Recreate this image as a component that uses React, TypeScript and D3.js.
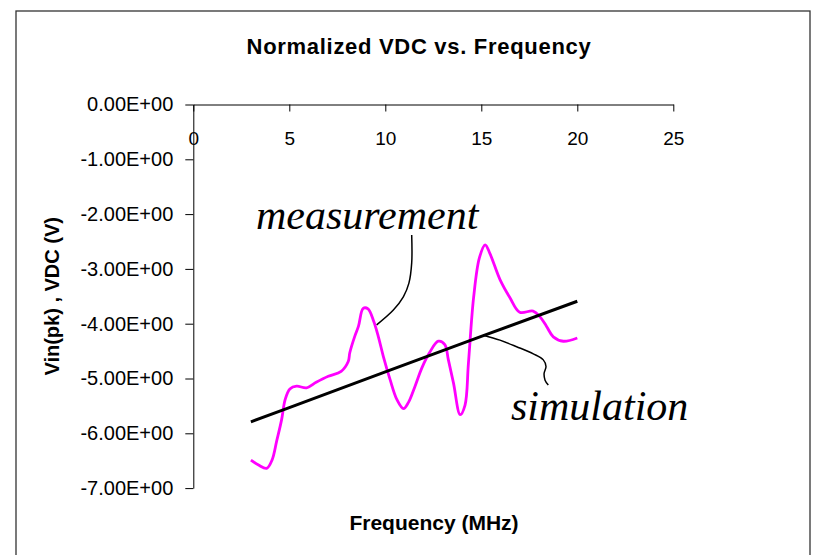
import React, { useRef, useEffect } from 'react';
import * as d3 from 'd3';

// measured curve (MHz, V)
const measFreq = [3.0, 3.4, 3.82, 4.1, 4.35, 4.6, 4.78, 5.03, 5.38, 5.9, 6.4, 7.03, 7.7, 8.07, 8.15, 8.4, 8.6, 8.85, 9.1, 9.4, 9.64, 9.9, 10.25, 10.6, 10.95, 11.2, 11.55, 11.9, 12.3, 12.76, 13.1, 13.28, 13.55, 13.9, 14.15, 14.33, 14.6, 14.9, 15.2, 15.45, 15.98, 16.5, 17.0, 17.7, 18.05, 18.4, 18.75, 19.27, 20.0];
const measValue = [-6.49, -6.58, -6.64, -6.49, -6.13, -5.75, -5.39, -5.19, -5.14, -5.17, -5.07, -4.96, -4.87, -4.69, -4.53, -4.24, -4.05, -3.72, -3.73, -3.96, -4.24, -4.6, -5.02, -5.38, -5.55, -5.44, -5.14, -4.81, -4.53, -4.32, -4.38, -4.65, -5.08, -5.66, -5.49, -4.72, -3.52, -2.8, -2.56, -2.72, -3.2, -3.53, -3.79, -3.77, -3.87, -4.05, -4.24, -4.32, -4.26];

// simulation line
const simFreq = [3, 5, 10, 15, 20];
const simValue = [-5.79, -5.53, -4.88, -4.23, -3.59];

const xTicks = [0, 5, 10, 15, 20, 25];
const yTicks = [0, -1, -2, -3, -4, -5, -6, -7];

// callout leaders, in data units
const measLeader: [number, number][] = [[11.375, -2.38], [11.375, -2.89], [11.23, -3.26], [10.94, -3.51], [10.42, -3.75], [9.55, -4.02]];
const simLeader: [number, number][] = [[15.1, -4.21], [15.97, -4.3], [16.84, -4.42], [17.71, -4.55], [18.23, -4.66], [18.37, -4.78], [18.27, -4.91], [18.32, -5.03], [18.49, -5.12]];

const App = () => {
  const svgRef = useRef<SVGSVGElement>(null);

  useEffect(() => {
    if (!svgRef.current) return;
    const svg = d3.select(svgRef.current);
    svg.selectAll('*').remove();

    const width = 820;
    const height = 555;

    const x = d3.scaleLinear().domain([0, 25]).range([193.3, 673.3]);
    const y = d3.scaleLinear().domain([-7, 0]).range([488.1, 104.5]);

    // outer frame
    svg.append('rect')
      .attr('x', 16).attr('y', 11)
      .attr('width', 794).attr('height', 560)
      .attr('fill', 'white')
      .attr('stroke', '#333')
      .attr('stroke-width', 1.3);

    // title
    svg.append('text')
      .attr('x', 419).attr('y', 54)
      .attr('text-anchor', 'middle')
      .attr('font-family', 'Liberation Sans, Arial, sans-serif')
      .attr('font-weight', 'bold')
      .attr('font-size', 22)
      .attr('letter-spacing', 0.7)
      .text('Normalized VDC vs. Frequency');

    // x axis sits on the zero line at the top
    const xAxis = svg.append('g')
      .attr('transform', `translate(0, ${y(0)})`)
      .call(d3.axisBottom(x).tickValues(xTicks).tickSize(7).tickSizeOuter(0).tickPadding(20));
    xAxis.selectAll('text')
      .attr('font-family', 'Liberation Sans, Arial, sans-serif')
      .attr('font-size', 19)
      .attr('fill', 'black');

    const yAxis = svg.append('g')
      .attr('transform', `translate(${x(0)}, 0)`)
      .call(d3.axisLeft(y).tickValues(yTicks).tickSize(8).tickSizeOuter(0).tickPadding(12)
        .tickFormat(d => (+d).toFixed(2) + 'E+00'));
    yAxis.selectAll('text')
      .attr('font-family', 'Liberation Sans, Arial, sans-serif')
      .attr('font-size', 20)
      .attr('fill', 'black');

    svg.selectAll('.domain, .tick line').attr('stroke', 'black').attr('stroke-width', 1);

    // axis titles
    svg.append('text')
      .attr('x', 434).attr('y', 530)
      .attr('text-anchor', 'middle')
      .attr('font-family', 'Liberation Sans, Arial, sans-serif')
      .attr('font-weight', 'bold')
      .attr('font-size', 21)
      .text('Frequency (MHz)');

    svg.append('text')
      .attr('transform', `translate(59, ${(y(0) + y(-7)) / 2}) rotate(-90)`)
      .attr('text-anchor', 'middle')
      .attr('font-family', 'Liberation Sans, Arial, sans-serif')
      .attr('font-weight', 'bold')
      .attr('font-size', 20)
      .text('Vin(pk) , VDC (V)');

    // measurement
    const meas = measFreq.map((f, i) => [f, measValue[i]] as [number, number]);
    const line = d3.line<[number, number]>()
      .x(d => x(d[0]))
      .y(d => y(d[1]))
      .curve(d3.curveCatmullRom.alpha(0.5));

    svg.append('path')
      .datum(meas)
      .attr('d', line)
      .attr('fill', 'none')
      .attr('stroke', '#FF00FF')
      .attr('stroke-width', 2.8)
      .attr('stroke-linejoin', 'round');

    // simulation
    const sim = simFreq.map((f, i) => [f, simValue[i]] as [number, number]);
    svg.append('path')
      .datum(sim)
      .attr('d', d3.line<[number, number]>().x(d => x(d[0])).y(d => y(d[1])))
      .attr('fill', 'none')
      .attr('stroke', 'black')
      .attr('stroke-width', 3);

    // callouts
    [measLeader, simLeader].forEach(pts => {
      svg.append('path')
        .datum(pts)
        .attr('d', line)
        .attr('fill', 'none')
        .attr('stroke', 'black')
        .attr('stroke-width', 1.5);
    });

    svg.append('text')
      .attr('x', 256).attr('y', 229)
      .attr('font-family', 'Liberation Serif, Times New Roman, serif')
      .attr('font-style', 'italic')
      .attr('font-size', 42)
      .text('measurement');

    svg.append('text')
      .attr('x', 511).attr('y', 420)
      .attr('font-family', 'Liberation Serif, Times New Roman, serif')
      .attr('font-style', 'italic')
      .attr('font-size', 42)
      .text('simulation');

    svg.attr('width', width).attr('height', height);
  }, []);

  return (
    <div style={{ position: 'absolute', left: 0, top: 0, background: 'white' }}>
      <svg ref={svgRef} width={820} height={555} style={{ display: 'block' }}></svg>
    </div>
  );
};

export default App;
